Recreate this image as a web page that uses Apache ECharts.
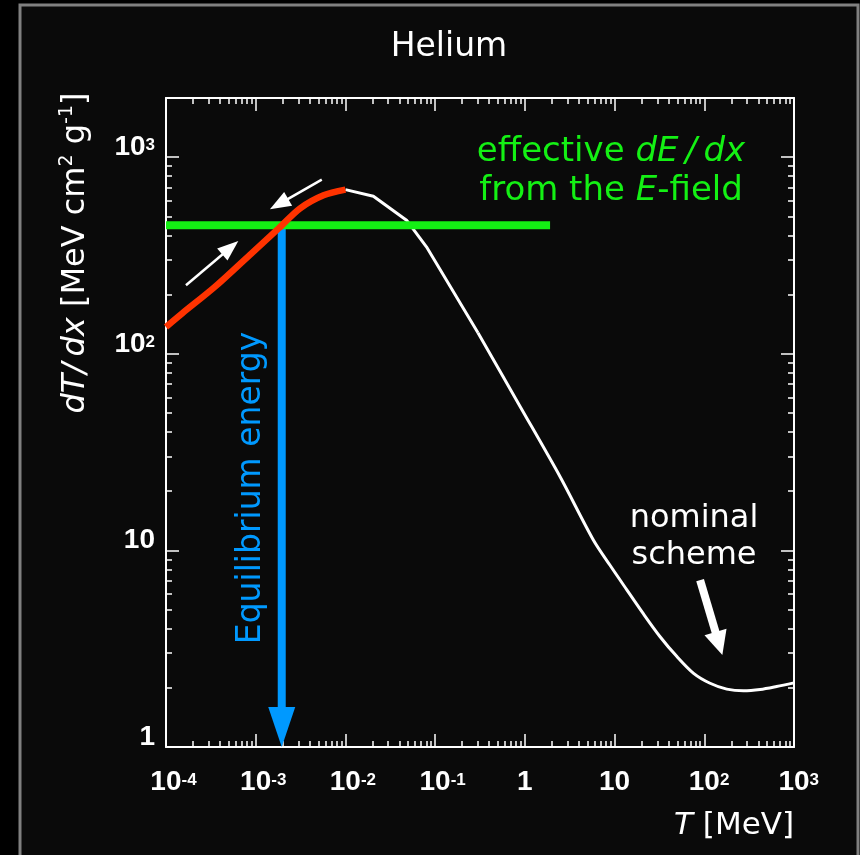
<!DOCTYPE html>
<html><head><meta charset="utf-8">
<script src="https://cdn.jsdelivr.net/npm/echarts@6/dist/echarts.min.js"></script>
<style>html,body{margin:0;padding:0;background:#000;}#c{width:860px;height:855px;}</style>
</head><body><div id="c"></div>
<script>
// ---- data (T in MeV, dT/dx in MeV cm^2 g^-1) ----
const redT   = [1e-4, 1.5e-4, 3.5e-4, 8.5e-4, 1.8e-3, 3.1e-3, 5.7e-3, 1e-2];
const redV   = [137, 160, 219, 317, 434, 548, 640, 684];
const whiteHighT = [1e-2, 0.0205, 0.048, 0.08, 0.3];
const whiteHighV = [684, 633, 478, 350, 128];
const whiteLowT  = [0.3, 0.885, 2.47, 5.8, 8.9, 13.7, 21, 32, 49, 76, 116, 178, 273, 420, 640, 1000];
const whiteLowV  = [128, 54, 23.7, 11.3, 8.4, 6.3, 4.75, 3.65, 2.9, 2.37, 2.11, 1.97, 1.93, 1.96, 2.03, 2.12];
const fieldT = [1e-4, 1.91];
const fieldV = [451, 451];
const eqArrow = [[1.95e-3, 451, 1.95e-3, 1]];
const smallArrows = [[1.67e-4, 223, 6.4e-4, 375], [5.45e-3, 769, 1.44e-3, 543]];
const bigArrow = [[89.8, 7.06, 159, 2.94]];
// ---- ticks ----
const xTicks = [1e-4, 1e-3, 1e-2, 1e-1, 1, 10, 100, 1000];
const xTickBase = ['10', '10', '10', '10', '1', '10', '10', '10'];
const xTickExp = ['-4', '-3', '-2', '-1', '', '', '2', '3'];
const yTicks = [1, 10, 100, 1000];
const yTickBase = ['1', '10', '10', '10'];
const yTickExp = ['', '', '2', '3'];
const minorMult = [2, 3, 4, 5, 6, 7, 8, 9];
const xDecades = [1e-4, 1e-3, 1e-2, 1e-1, 1, 10, 100];
const yDecades = [1, 10, 100];

const xMinor = [];
xDecades.forEach(d => minorMult.forEach(m => xMinor.push(d * m)));
const yMinor = [];
yDecades.forEach(d => minorMult.forEach(m => { if (d * m < 2000) yMinor.push(d * m); }));

function pairs(a, b) { return a.map((v, i) => [v, b[i]]); }
function findIdx(arr, v) {
  let best = 0, bd = 1e9;
  arr.forEach((t, i) => { const d = Math.abs(Math.log10(t) - Math.log10(v)); if (d < bd) { bd = d; best = i; } });
  return best;
}

const TF = 'Liberation Sans';
const AF = 'DejaVu Sans';
const tickRich = {
  b: { fontFamily: TF, fontWeight: 'bold', fontSize: 28, color: '#fff', lineHeight: 20 },
  n: { fontFamily: TF, fontWeight: 'bold', fontSize: 17, color: '#fff', lineHeight: 12, padding: [0, 0, 9, 0], verticalAlign: 'top' },
  pn: { fontFamily: TF, fontSize: 17, width: 15, lineHeight: 12 },
  pp: { fontFamily: TF, fontSize: 17, width: 9.5, lineHeight: 12 }
};

function xFmt(v) {
  const i = findIdx(xTicks, v);
  const e = xTickExp[i];
  if (!e) return '{b|' + xTickBase[i] + '}';
  const pad = e.charAt(0) === '-' ? 'pn' : 'pp';
  return '{' + pad + '| }{b|' + xTickBase[i] + '}{n|' + e + '}';
}
function yFmt(v) {
  const i = findIdx(yTicks, v);
  const e = yTickExp[i];
  return '{b|' + yTickBase[i] + '}' + (e ? '{n|' + e + '}' : '');
}

const white = '#ffffff';
const lineSt = { color: white, width: 2 };
const majTick = { color: white, width: 1.5 };

function xAx(pos, major) {
  return {
    type: 'log', logBase: 10, min: 1e-4, max: 1e3, position: pos,
    axisLine: { show: major, onZero: false, lineStyle: lineSt },
    axisTick: { show: true, inside: true, length: major ? 13 : 6, lineStyle: majTick, customValues: major ? xTicks : xMinor },
    axisLabel: (major && pos === 'bottom') ? { show: true, customValues: xTicks, formatter: xFmt, rich: tickRich, margin: 25 } : { show: false },
    splitLine: { show: false }, minorTick: { show: false }, minorSplitLine: { show: false }
  };
}
function yAx(pos, major) {
  return {
    type: 'log', logBase: 10, min: 1, max: 2000, position: pos,
    axisLine: { show: major, onZero: false, lineStyle: lineSt },
    axisTick: { show: true, inside: true, length: major ? 13 : 6, lineStyle: majTick, customValues: major ? yTicks : yMinor },
    axisLabel: (major && pos === 'left') ? { show: true, customValues: yTicks, formatter: yFmt, rich: tickRich, margin: 11, verticalAlign: 'bottom' } : { show: false },
    splitLine: { show: false }, minorTick: { show: false }, minorSplitLine: { show: false }
  };
}

function arrowRender(st) {
  return function (params, api) {
    const p1 = api.coord([api.value(0), api.value(1)]);
    const p2 = api.coord([api.value(2), api.value(3)]);
    const dx = p2[0] - p1[0], dy = p2[1] - p1[1];
    const len = Math.hypot(dx, dy) || 1;
    const ux = dx / len, uy = dy / len;
    const bx = p2[0] - ux * st.headLen, by = p2[1] - uy * st.headLen;
    const px = -uy, py = ux, hw = st.headW / 2;
    return {
      type: 'group', children: [
        { type: 'line', shape: { x1: p1[0], y1: p1[1], x2: bx + ux * 2, y2: by + uy * 2 }, style: { stroke: st.color, lineWidth: st.width } },
        { type: 'polygon', shape: { points: [[p2[0], p2[1]], [bx + px * hw, by + py * hw], [bx - px * hw, by - py * hw]] }, style: { fill: st.color } }
      ]
    };
  };
}

const chart = echarts.init(document.getElementById('c'), null, { renderer: 'canvas' });
const GREEN = '#14f014', BLUE = '#0099ff', RED = '#ff3300';

chart.setOption({
  backgroundColor: '#000',
  animation: false,
  grid: { left: 166, top: 98, width: 628, height: 649, containLabel: false },
  xAxis: [xAx('bottom', true), xAx('bottom', false), xAx('top', true), xAx('top', false)],
  yAxis: [yAx('left', true), yAx('left', false), yAx('right', true), yAx('right', false)],
  series: [
    { type: 'custom', name: 'eq', xAxisIndex: 0, yAxisIndex: 0, z: 2, silent: true,
      renderItem: arrowRender({ color: BLUE, width: 8, headLen: 40, headW: 27 }),
      encode: { x: [0, 2], y: [1, 3] }, data: eqArrow },
    { type: 'line', name: 'whiteHigh', xAxisIndex: 0, yAxisIndex: 0, z: 3, symbol: 'none', silent: true,
      lineStyle: { color: white, width: 3 }, data: pairs(whiteHighT, whiteHighV) },
    { type: 'line', name: 'whiteLow', xAxisIndex: 0, yAxisIndex: 0, z: 3, symbol: 'none', silent: true, smooth: 0.3,
      lineStyle: { color: white, width: 3 }, data: pairs(whiteLowT, whiteLowV) },
    { type: 'line', name: 'field', xAxisIndex: 0, yAxisIndex: 0, z: 4, symbol: 'none', silent: true,
      lineStyle: { color: GREEN, width: 8, cap: 'butt' }, data: pairs(fieldT, fieldV) },
    { type: 'line', name: 'red', xAxisIndex: 0, yAxisIndex: 0, z: 5, symbol: 'none', silent: true, smooth: 0.3,
      lineStyle: { color: RED, width: 6.5 }, data: pairs(redT, redV) },
    { type: 'custom', name: 'small', xAxisIndex: 0, yAxisIndex: 0, z: 6, silent: true,
      renderItem: arrowRender({ color: white, width: 2.5, headLen: 21, headW: 16 }),
      encode: { x: [0, 2], y: [1, 3] }, data: smallArrows },
    { type: 'custom', name: 'big', xAxisIndex: 0, yAxisIndex: 0, z: 6, silent: true,
      renderItem: arrowRender({ color: white, width: 8, headLen: 24, headW: 23 }),
      encode: { x: [0, 2], y: [1, 3] }, data: bigArrow }
  ],
  graphic: [
    { type: 'rect', z: -100, silent: true, shape: { x: 20, y: 5, width: 838, height: 890 },
      style: { fill: '#0a0a0a', stroke: '#808080', lineWidth: 3 } },
    { type: 'text', x: 449, y: 47, silent: true,
      style: { text: 'Helium', fill: white, fontSize: 33, fontFamily: AF, align: 'center', verticalAlign: 'middle' } },
    { type: 'text', x: 76, y: 253, rotation: Math.PI / 2, silent: true,
      style: { text: '{i|dT/\u2009dx}{r| [MeV cm}{s|2}{r| g}{s|-1}{r|]}', align: 'center', verticalAlign: 'middle',
        fontSize: 32, fontFamily: AF, fill: white,
        rich: {
          i: { fontFamily: AF, fontSize: 32, fontStyle: 'italic', fill: white, lineHeight: 36 },
          r: { fontFamily: AF, fontSize: 32, fill: white, lineHeight: 36 },
          s: { fontFamily: AF, fontSize: 19, fill: white, lineHeight: 22, verticalAlign: 'top' }
        } } },
    { type: 'text', x: 794, y: 826, silent: true,
      style: { text: '{i|T}{r| [MeV]}', align: 'right', verticalAlign: 'middle', fontSize: 31, fontFamily: AF, fill: white,
        rich: {
          i: { fontFamily: AF, fontSize: 31, fontStyle: 'italic', fill: white },
          r: { fontFamily: AF, fontSize: 31, fill: white }
        } } },
    { type: 'text', x: 611, y: 172, silent: true,
      style: { text: '{a|effective }{i|dE\u2009/\u2009dx}\n{a|from the }{i|E}{a|-field}', align: 'center', verticalAlign: 'middle',
        fontSize: 34, fontFamily: AF, fill: GREEN,
        rich: {
          a: { fontFamily: AF, fontSize: 34, fill: GREEN, lineHeight: 39 },
          i: { fontFamily: AF, fontSize: 34, fontStyle: 'italic', fill: GREEN, lineHeight: 39 }
        } } },
    { type: 'text', x: 694, y: 537, silent: true,
      style: { text: 'nominal\nscheme', align: 'center', verticalAlign: 'middle', fontSize: 32, lineHeight: 37, fontFamily: AF, fill: white } },
    { type: 'text', x: 251, y: 488, rotation: Math.PI / 2, silent: true,
      style: { text: 'Equilibrium energy', align: 'center', verticalAlign: 'middle', fontSize: 33, fontFamily: AF, fill: BLUE } }
  ]
});
</script></body></html>
